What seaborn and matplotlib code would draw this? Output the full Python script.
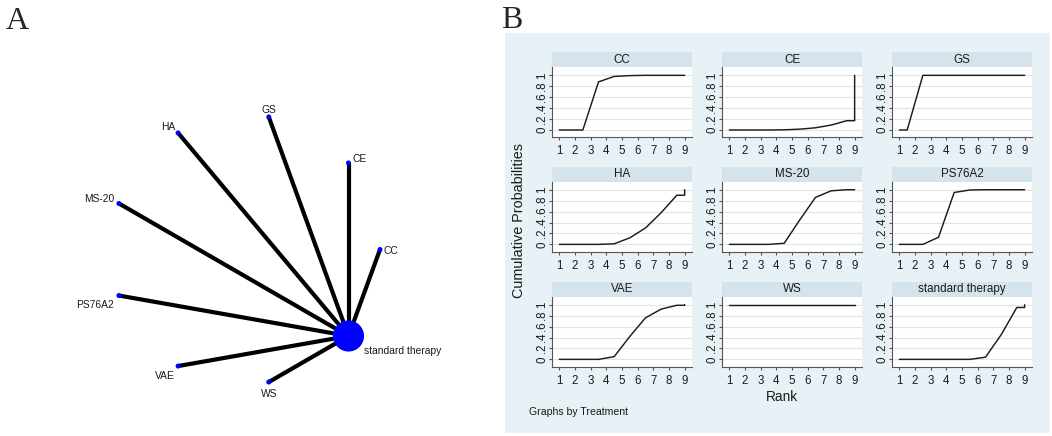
import numpy as np
import pandas as pd
import matplotlib
matplotlib.use("Agg")
import matplotlib.pyplot as plt
import seaborn as sns
from matplotlib.patches import Rectangle

# ---------------- data ----------------
treatments = ["CC", "CE", "GS", "HA", "MS-20", "PS76A2", "VAE", "WS", "standard therapy"]
ranks = [1, 2, 3, 4, 5, 6, 7, 8, 9]
cum_cc = [0.0, 0.0, 0.88, 0.98, 0.995, 1.0, 1.0, 1.0, 1.0]
cum_ce = [0.0, 0.0, 0.0, 0.003, 0.015, 0.04, 0.09, 0.17, 1.0]
cum_gs = [0.0, 1.0, 1.0, 1.0, 1.0, 1.0, 1.0, 1.0, 1.0]
cum_ha = [0.0, 0.0, 0.0, 0.01, 0.12, 0.30, 0.58, 0.90, 1.0]
cum_ms20 = [0.0, 0.0, 0.0, 0.02, 0.45, 0.86, 0.98, 1.0, 1.0]
cum_ps76a2 = [0.0, 0.0, 0.13, 0.95, 0.995, 1.0, 1.0, 1.0, 1.0]
cum_vae = [0.0, 0.0, 0.0, 0.05, 0.42, 0.76, 0.92, 0.99, 1.0]
cum_ws = [1.0, 1.0, 1.0, 1.0, 1.0, 1.0, 1.0, 1.0, 1.0]
cum_std = [0.0, 0.0, 0.0, 0.0, 0.0, 0.04, 0.45, 0.95, 1.0]
cum_probs = [cum_cc, cum_ce, cum_gs, cum_ha, cum_ms20, cum_ps76a2, cum_vae, cum_ws, cum_std]

y_tick_values = [0, 0.2, 0.4, 0.6, 0.8, 1.0]
y_tick_labels = ["0", ".2", ".4", ".6", ".8", "1"]

# network (order around the circle, counter-clockwise from the right)
network_nodes = ["CC", "CE", "GS", "HA", "MS-20", "PS76A2", "VAE", "WS", "standard therapy"]
network_edges = [("standard therapy", "CC"), ("standard therapy", "CE"), ("standard therapy", "GS"),
                 ("standard therapy", "HA"), ("standard therapy", "MS-20"), ("standard therapy", "PS76A2"),
                 ("standard therapy", "VAE"), ("standard therapy", "WS")]

# ---------------- style ----------------
sns.set_style("white")
plt.rcParams["font.family"] = ["Liberation Sans", "DejaVu Sans"]

W, H = 1052, 436
fig = plt.figure(figsize=(W / 100, H / 100), dpi=100)


def fbox(l, t, w, h):
    return [l / W, 1 - (t + h) / H, w / W, h / H]


TXT = "#1a1a1a"

# ---------------- Panel A: network ----------------
axA = fig.add_axes([0, 0, 500 / W, 1])
axA.set_xlim(0, 500)
axA.set_ylim(436, 0)
axA.axis("off")

cx, cy, rad = 245.4, 249.5, 134.6
n = len(network_nodes)
theta = 2 * np.pi * np.arange(n) / n
pos = {name: (cx + rad * np.cos(t), cy - rad * np.sin(t)) for name, t in zip(network_nodes, theta)}
degree = {name: sum(name in e for e in network_edges) for name in network_nodes}

for a, b in network_edges:
    (x1, y1), (x2, y2) = pos[a], pos[b]
    axA.plot([x1, x2], [y1, y2], color="black", lw=3.0, solid_capstyle="butt", zorder=1)

nodes_df = pd.DataFrame({
    "name": network_nodes,
    "x": [pos[nm][0] for nm in network_nodes],
    "y": [pos[nm][1] for nm in network_nodes],
    "degree": [degree[nm] for nm in network_nodes],
})
sns.scatterplot(data=nodes_df, x="x", y="y", size="degree", sizes=(13, 500), color="#0000ff",
                edgecolor="none", legend=False, ax=axA, zorder=3)
axA.set_xlabel("")
axA.set_ylabel("")

label_style = {
    "GS": (0, 4, "center"),
    "HA": (-3, 3, "right"),
    "CE": (4, 1, "left"),
    "MS-20": (-5, 1, "right"),
    "CC": (4, -4, "left"),
    "PS76A2": (-5, -12, "right"),
    "VAE": (-3, -13, "right"),
    "WS": (0, -15, "center"),
    "standard therapy": (15, -18, "left"),
}
for nm in network_nodes:
    dx, dy, ha = label_style[nm]
    axA.annotate(nm, pos[nm], xytext=(dx, dy), textcoords="offset pixels", ha=ha, va="baseline",
                 fontsize=7.4, color=TXT)

fig.text(6 / W, 1 - 29.3 / H, "A", fontfamily="Liberation Serif", fontsize=23, va="baseline", ha="left")
fig.text(500.7 / W, 1 - 28.3 / H, "B", fontfamily="Liberation Serif", fontsize=23, va="baseline", ha="left")

# ---------------- Panel B: cumulative ranking ----------------
bg = Rectangle((505 / W, 1 - 433 / H), (1050 - 505) / W, (433 - 33.3) / H,
               transform=fig.transFigure, facecolor="#e8f1f6", edgecolor="none", zorder=-10)
fig.patches.append(bg)

col_left = [552, 722, 892]
row_top = [67.3, 181.7, 296.7]
AX_W, AX_H, STRIP_H = 140, 70, 15

for idx, (name, cp) in enumerate(zip(treatments, cum_probs)):
    r, c = divmod(idx, 3)
    ax = fig.add_axes(fbox(col_left[c], row_top[r], AX_W, AX_H))
    ax.set_zorder(1)
    ax.set_facecolor("white")
    # stair-like path of cumulative probabilities
    xs = [ranks[0]] + [k + 0.5 for k in ranks[:-1]] + [ranks[-1], ranks[-1]]
    ys = [cp[0]] + list(cp[:-1]) + [cp[-2], cp[-1]]
    sns.lineplot(x=xs, y=ys, ax=ax, estimator=None, sort=False, color="#1c1c1c", linewidth=1.05)
    ax.set_xlim(0.53, 9.47)
    ax.set_ylim(-0.134, 1.147)
    ax.set_xticks(ranks)
    ax.set_xticklabels([str(k) for k in ranks])
    ax.set_yticks(y_tick_values)
    ax.set_yticklabels(y_tick_labels, rotation=90, va="center")
    ax.grid(axis="y", color="#e3e3e3", lw=0.8)
    ax.grid(axis="x", visible=False)
    ax.set_axisbelow(True)
    for s in ("top", "right"):
        ax.spines[s].set_visible(False)
    for s in ("left", "bottom"):
        ax.spines[s].set_color("#555555")
        ax.spines[s].set_linewidth(0.8)
    ax.tick_params(axis="both", direction="out", length=2.3, width=0.8, color="#555555",
                   labelcolor=TXT, labelsize=8.3, left=True, bottom=True)
    ax.tick_params(axis="x", pad=3.5)
    ax.tick_params(axis="y", pad=0.5)
    ax.set_xlabel("")
    ax.set_ylabel("")
    ax.add_patch(Rectangle((0, 1), 1, STRIP_H / AX_H, transform=ax.transAxes, clip_on=False,
                           facecolor="#d5e4ec", edgecolor="none"))
    ax.text(0.5, 1 + STRIP_H / AX_H / 2, name, transform=ax.transAxes, ha="center", va="center",
            fontsize=8.4, color=TXT)

fig.text(519.3 / W, 1 - 221 / H, "Cumulative Probabilities", rotation=90, ha="center", va="center",
         fontsize=10.4, color=TXT)
fig.text(781.7 / W, 1 - 396.7 / H, "Rank", ha="center", va="center", fontsize=9.8, color=TXT)
fig.text(529 / W, 1 - 411.7 / H, "Graphs by Treatment", ha="left", va="center", fontsize=7.6, color=TXT)

fig.savefig("out.png", dpi=100)
